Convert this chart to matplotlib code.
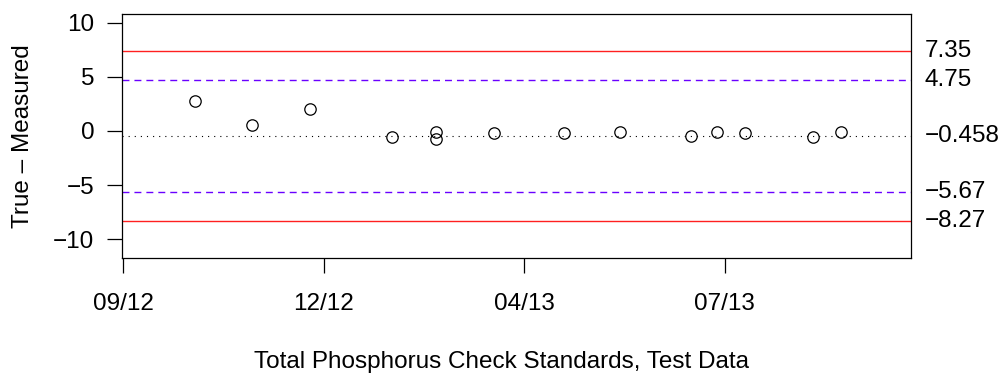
import matplotlib
matplotlib.use("Agg")
import matplotlib.pyplot as plt

plt.rcParams['font.family'] = ['Liberation Sans', 'DejaVu Sans']

# days since start of axis (tick 09/12 = day 0)
dias = [36, 64, 93, 134, 156, 156, 185, 220, 248, 283, 296, 310, 344, 358]
diferencia = [2.74, 0.58, 2.00, -0.58, -0.09, -0.71, -0.18, -0.21, -0.12, -0.49, -0.09, -0.18, -0.58, -0.12]

ticks_x = [0, 100, 200, 300]
etiquetas_x = ['09/12', '12/12', '04/13', '07/13']

centro = -0.458
lim_aviso = [4.75, -5.67]
lim_control = [7.35, -8.27]
etiquetas_lim = ['7.35', '4.75', '\u22120.458', '\u22125.67', '\u22128.27']
valores_lim = [7.35, 4.75, -0.458, -5.67, -8.27]

tam = 17.5

fig = plt.figure(figsize=(10.02, 3.74), dpi=100)
ax = fig.add_axes([122 / 1002, 1 - 258 / 374, (911 - 122) / 1002, (258 - 14) / 374])

for v in lim_control:
    ax.axhline(v, color='#ff2020', lw=1.0, zorder=1)
for v in lim_aviso:
    ax.axhline(v, color='#6a00ff', lw=1.0, dashes=(5, 3.6), zorder=1)
ax.axhline(centro, color='black', lw=0.8, dashes=(1, 4.5), zorder=1)

ax.plot(dias, diferencia, 'o', mfc='none', mec='black', ms=8.2, mew=0.9, zorder=3)

ax.set_xlim(-0.6, 392.9)
ax.set_ylim(-11.73, 10.8)
ax.set_xticks(ticks_x)
ax.set_xticklabels(etiquetas_x)
ax.set_yticks([-10, -5, 0, 5, 10])
ax.tick_params(labelsize=tam, length=11, width=0.9)
ax.tick_params(axis='y', pad=9)
ax.tick_params(axis='x', pad=14)
for s in ax.spines.values():
    s.set_linewidth(0.9)

for v, t in zip(valores_lim, etiquetas_lim):
    ax.annotate(t, xy=(1, v), xycoords=('axes fraction', 'data'), xytext=(10, 0),
                textcoords='offset points', ha='left', va='center', fontsize=tam)

ax.set_ylabel('True \u2013 Measured', fontsize=tam, labelpad=14)
fig.text(0.5, 1 - 362 / 374, 'Total Phosphorus Check Standards, Test Data',
         ha='center', va='center', fontsize=tam)

fig.savefig('out.png', dpi=100)
